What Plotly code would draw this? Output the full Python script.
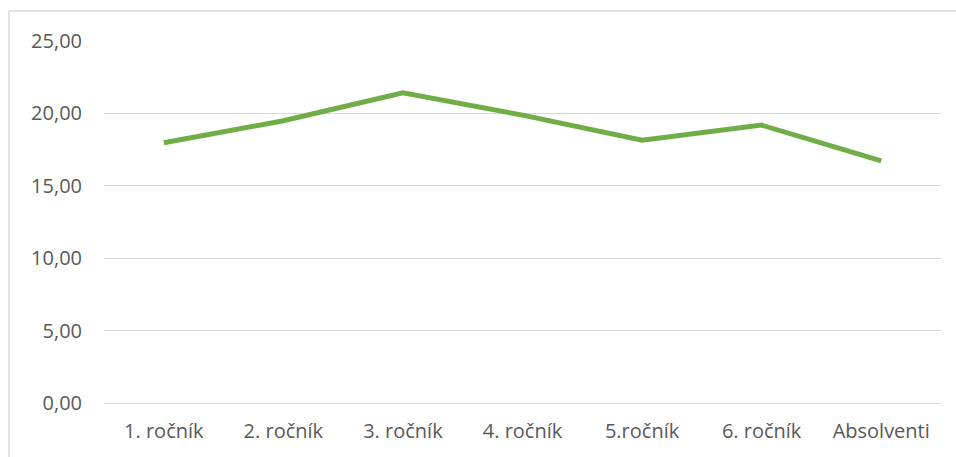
import plotly.graph_objects as go

# data
categories = ["1. ročník", "2. ročník", "3. ročník", "4. ročník", "5.ročník", "6. ročník", "Absolventi"]
values = [17.97, 19.49, 21.42, 19.88, 18.15, 19.19, 16.72]
y_ticks = [0, 5, 10, 15, 20, 25]

W, H = 956, 457
L, R, T, B = 104, 15, 41, 54  # plot area margins (px)
plot_w = W - L - R
plot_h = H - T - B

fig = go.Figure()

fig.add_trace(go.Scatter(
    x=categories,
    y=values,
    mode="lines",
    line=dict(color="#70AD47", width=5),
    hoverinfo="x+y",
    showlegend=False,
))

# outer chart border (top + left edges visible in the picture)
bx = (9 - L) / plot_w
by = 1 + (T - 11) / plot_h
fig.add_shape(type="line", xref="paper", yref="paper",
              x0=bx, y0=by, x1=1 + R / plot_w + 0.01, y1=by,
              line=dict(color="#D9D9D9", width=1.5))
fig.add_shape(type="line", xref="paper", yref="paper",
              x0=bx, y0=by, x1=bx, y1=-B / plot_h - 0.01,
              line=dict(color="#D9D9D9", width=1.5))

fig.update_layout(
    width=W,
    height=H,
    margin=dict(l=L, r=R, t=T, b=B),
    paper_bgcolor="white",
    plot_bgcolor="white",
    separators=", ",
    font=dict(family="Open Sans", size=20, color="#595959"),
    xaxis=dict(
        range=[-0.5, len(categories) - 0.5],
        showgrid=False,
        zeroline=False,
        showline=False,
        ticks="",
        ticklabelstandoff=14,
        tickfont=dict(size=20, color="#595959"),
    ),
    yaxis=dict(
        range=[0, 25],
        tickvals=y_ticks,
        tickformat=".2f",
        showgrid=True,
        gridcolor="#D9D9D9",
        gridwidth=1.3,
        zeroline=True,
        zerolinecolor="#D9D9D9",
        zerolinewidth=1.3,
        showline=False,
        ticks="",
        ticklabelstandoff=21,
        tickfont=dict(size=20, color="#595959"),
    ),
)

# drop the default body margin so the figure sits at the page origin
fig.write_html("out.html", config={"displayModeBar": False},
               post_script="document.body.style.margin='0';")
